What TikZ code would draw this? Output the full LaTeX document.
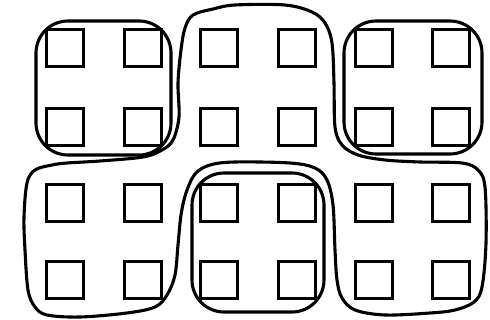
\documentclass[tikz,border=0pt]{standalone}
\usepackage{tikz}

\begin{document}
\begin{tikzpicture}[x=1pt,y=-1pt,
  cell/.style={draw,line width=3.6pt,minimum size=37pt,inner sep=0pt},
  group/.style={draw,line width=3.1pt,rounded corners=32pt},
  snake/.style={draw,line width=3.1pt,line join=round}]
  \useasboundingbox (0,0) rectangle (490,320);
  \foreach \c/\cx in {1/65,2/143,3/219,4/297,5/374,6/451}
    \foreach \r/\ry in {1/48,2/127,3/203,4/280}
      \node[cell] (c\r\c) at (\cx,\ry) {};
  \draw[group] (36,21) rectangle (171,155);
  \draw[group] (344,21) rectangle (482,154);
  \draw[group] (192,173) rectangle (324,312);
  \draw[snake] plot[smooth cycle,tension=0.55] coordinates {
    (67,163) (100,161) (143,157) (162,150) (173,140) (179,117) (178,83)
    (181,50) (185,28) (193,15) (213,9) (235,5) (285,5) (312,12) (325,23)
    (332,43) (334,83) (335,127) (342,145) (358,155) (385,160) (420,162)
    (462,163) (478,170) (485,187) (486,243) (482,287) (474,302) (455,310)
    (430,313) (385,315) (355,310) (342,298) (337,280) (335,250) (333,205)
    (327,180) (315,168) (290,163) (235,162) (210,165) (195,174) (186,193)
    (181,215) (178,245) (175,275) (167,295) (155,307) (127,313) (80,317)
    (47,315) (35,307) (28,290) (25,250) (24,217) (27,183) (35,170) (52,165)};
\end{tikzpicture}
\end{document}
